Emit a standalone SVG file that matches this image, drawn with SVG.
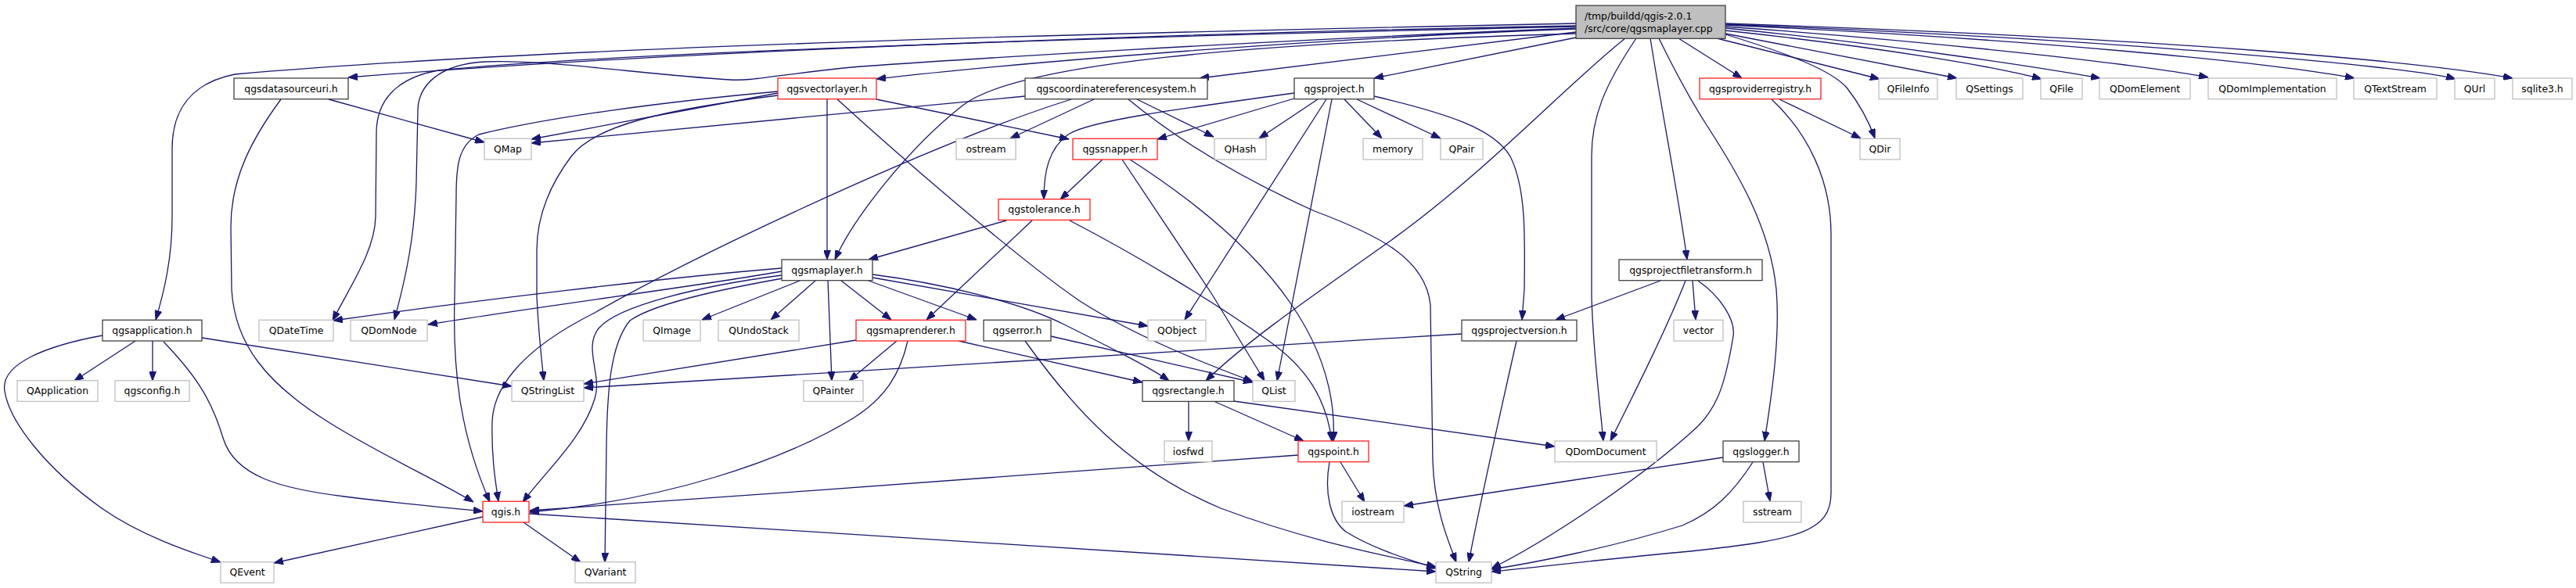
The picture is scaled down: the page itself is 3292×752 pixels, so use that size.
<svg xmlns="http://www.w3.org/2000/svg" width="3292" height="752" viewBox="0 0 3292 752">
<style>
rect{fill:#fff;stroke-width:1.3}
.b{stroke:#404040}
.r{stroke:#ff2020}
.g{stroke:#bfbfbf}
.root{fill:#bfbfbf;stroke:#404040}
text{font-family:"DejaVu Sans",sans-serif;font-size:12.4px;fill:#000;text-anchor:middle}
.lt{text-anchor:start}
#edges path{fill:none;stroke:#191970;stroke-width:1.3;marker-end:url(#ah)}
</style>
<defs>
<marker id="ah" markerWidth="12" markerHeight="9" refX="12" refY="4.5" orient="auto" markerUnits="userSpaceOnUse"><path d="M0,0 L12,4.5 L0,9 z" fill="#191970" stroke="#191970" stroke-width="1"/></marker>
</defs>
<rect x="0" y="0" width="3292" height="752" style="fill:#fff;stroke:none"/>
<g id="edges">
<path d="M2014,30 C1400,42 700,60 300,95 C245,106 220,140 220,190 L220,277 C220,330 210,372 199,409"/>
<path d="M2014,33 C1600,40 900,62 445,99"/>
<path d="M2014,37 C1700,48 1300,80 1120,101"/>
<path d="M2014,41 L1533,100"/>
<path d="M2014,48 L1756,100"/>
<path d="M2014,43 C1600,55 1300,80 1230,135 C1160,190 1090,280 1067,332"/>
<path d="M2014,34 C1500,45 800,66 560,90 C505,100 481,130 481,170 L480,277 C479,320 450,362 425,410"/>
<path d="M2014,36 C1600,52 1200,78 1100,85 C1000,94 965,104 933,102 C820,95 700,76 620,79 C560,82 535,110 534,140 L532,233 C530,300 520,350 504,409"/>
<path d="M2145,49 L2226,100"/>
<path d="M2120,49 C2140,90 2165,135 2181,160 C2220,220 2262,290 2270,370 C2275,430 2265,500 2255,564"/>
<path d="M2194,49 L2402,101"/>
<path d="M2205,43 L2501,100"/>
<path d="M2205,39 C2400,60 2550,85 2609,101"/>
<path d="M2205,36 C2400,55 2600,85 2684,100"/>
<path d="M2205,34 C2500,55 2750,85 2822,99"/>
<path d="M2205,32 C2600,50 2900,80 3009,100"/>
<path d="M2205,31 C2700,50 3080,85 3138,101"/>
<path d="M2205,30 C2800,50 3100,80 3211,100"/>
<path d="M2205,44 C2290,70 2340,90 2360,112 C2378,135 2390,160 2396,177"/>
<path d="M2077,49 C2000,110 1900,220 1774,310 C1690,370 1600,430 1541,487"/>
<path d="M2091,49 C2050,110 2034,150 2034,200 L2034,380 C2036,450 2044,510 2049,564"/>
<path d="M2109,49 C2125,150 2145,250 2156,332"/>
<path d="M420,127 L619,182"/>
<path d="M359,127 C320,180 295,230 295,290 L296,370 C300,440 340,490 420,540 C480,578 560,615 605,642"/>
<path d="M173,436 L95,487"/>
<path d="M195,436 L195,487"/>
<path d="M131,429 C60,442 0,465 6,500 C12,540 60,600 130,650 C180,685 240,705 282,719"/>
<path d="M209,437 C250,480 270,510 285,560 C300,610 360,625 440,635 C520,645 580,650 617,654"/>
<path d="M258,432 L654,494"/>
<path d="M994,119 L679,178"/>
<path d="M994,117 C850,130 700,150 612,172 C585,185 583,215 583,250 L581,380 C578,480 590,560 626,642"/>
<path d="M994,122 C850,140 760,160 730,200 C700,240 686,280 686,320 L686,380 C688,420 692,460 695,487"/>
<path d="M1057,127 L1057,332"/>
<path d="M1120,127 L1366,178"/>
<path d="M1070,127 C1150,200 1300,330 1380,385 C1450,430 1540,465 1601,488"/>
<path d="M1310,123 L679,183"/>
<path d="M1398,127 L1291,177"/>
<path d="M1453,127 L1551,175"/>
<path d="M1442,127 C1500,175 1580,225 1680,270 C1760,300 1822,330 1828,390 L1831,590 C1833,650 1850,690 1861,719"/>
<path d="M1369,127 C1200,180 900,320 760,400 C660,450 630,500 629,540 C628,580 632,610 637,641"/>
<path d="M1654,126 L1479,178"/>
<path d="M1684,127 L1609,177"/>
<path d="M1654,119 C1500,140 1390,155 1365,172 C1340,190 1334,220 1334,255"/>
<path d="M1718,127 L1766,177"/>
<path d="M1734,127 L1841,177"/>
<path d="M1756,123 C1850,145 1910,165 1930,200 C1950,240 1949,300 1948,370 L1945,409"/>
<path d="M1695,127 L1514,409"/>
<path d="M1702,127 L1632,487"/>
<path d="M2274,127 L2378,177"/>
<path d="M2264,127 C2310,170 2340,230 2340,300 L2340,630 C2340,680 2300,690 2160,705 C2050,715 1960,726 1906,731"/>
<path d="M1409,204 L1355,255"/>
<path d="M1434,204 L1548,375 C1575,420 1600,460 1616,487"/>
<path d="M1444,204 C1640,330 1710,450 1704,564"/>
<path d="M1286,282 L1110,332"/>
<path d="M1319,282 L1184,409"/>
<path d="M1367,282 C1450,325 1550,385 1620,435 C1670,470 1695,510 1702,564"/>
<path d="M999,343 C850,355 600,385 426,410"/>
<path d="M999,347 C900,365 700,390 547,415"/>
<path d="M999,352 C900,365 790,390 765,420 C745,445 770,480 760,510 C745,560 700,600 668,642"/>
<path d="M1000,356 C950,365 840,385 805,410 C780,440 776,500 775,570 L773,719"/>
<path d="M1022,359 L897,409"/>
<path d="M1042,359 L985,409"/>
<path d="M1058,359 L1063,487"/>
<path d="M1075,359 L1139,409"/>
<path d="M1110,359 L1248,409"/>
<path d="M1115,355 L1467,417"/>
<path d="M1115,351 C1200,362 1300,385 1360,415 C1420,445 1470,470 1494,487"/>
<path d="M1094,435 L746,491"/>
<path d="M1146,436 L1085,487"/>
<path d="M1160,436 C1150,480 1130,510 1090,535 C1000,590 850,640 677,655"/>
<path d="M1225,436 L1460,489"/>
<path d="M1343,430 L1601,489"/>
<path d="M1310,436 C1370,520 1440,600 1560,650 C1680,695 1780,712 1835,725"/>
<path d="M1519,513 L1519,564"/>
<path d="M1577,513 L1987,571"/>
<path d="M1551,513 L1666,564"/>
<path d="M1659,582 C1400,602 1000,630 677,653"/>
<path d="M1713,591 L1744,642"/>
<path d="M1699,591 C1692,630 1700,665 1720,680 C1760,705 1810,718 1835,727"/>
<path d="M2122,359 L1988,409"/>
<path d="M2163,359 L2167,409"/>
<path d="M2154,359 C2130,420 2090,500 2058,564"/>
<path d="M2170,359 C2200,380 2218,410 2215,430 C2205,490 2195,520 2170,545 C2100,610 1980,690 1906,727"/>
<path d="M2202,585 L1794,647"/>
<path d="M2253,591 L2262,641"/>
<path d="M2240,591 C2215,630 2190,655 2150,672 C2060,700 1960,720 1906,728"/>
<path d="M617,661 L350,720"/>
<path d="M669,668 L742,719"/>
<path d="M676,657 L1835,731"/>
<path d="M1868,427 L746,496"/>
<path d="M1938,436 C1910,560 1890,650 1877,719"/>
</g>
<g id="n_root"><rect class="root" x="2014" y="7" width="191" height="42.3"/><text class="lt" x="2025" y="25">/tmp/buildd/qgis-2.0.1</text><text class="lt" x="2025" y="40.5">/src/core/qgsmaplayer.cpp</text></g>
<g id="n_qgsdatasourceuri"><rect class="b" x="299" y="100" width="146" height="26.7"/><text x="372" y="117.7">qgsdatasourceuri.h</text></g>
<g id="n_qgsvectorlayer"><rect class="r" x="994" y="100" width="126" height="26.7"/><text x="1057" y="117.7">qgsvectorlayer.h</text></g>
<g id="n_qgscrs"><rect class="b" x="1310" y="100" width="233" height="26.7"/><text x="1426.5" y="117.7">qgscoordinatereferencesystem.h</text></g>
<g id="n_qgsproject"><rect class="b" x="1654" y="100" width="102" height="26.7"/><text x="1705" y="117.7">qgsproject.h</text></g>
<g id="n_qgsproviderregistry"><rect class="r" x="2172" y="100" width="155" height="26.7"/><text x="2249.5" y="117.7">qgsproviderregistry.h</text></g>
<g id="n_QFileInfo"><rect class="g" x="2401" y="100" width="75" height="26.7"/><text x="2438.5" y="117.7">QFileInfo</text></g>
<g id="n_QSettings"><rect class="g" x="2500" y="100" width="85" height="26.7"/><text x="2542.5" y="117.7">QSettings</text></g>
<g id="n_QFile"><rect class="g" x="2608" y="100" width="53" height="26.7"/><text x="2634.5" y="117.7">QFile</text></g>
<g id="n_QDomElement"><rect class="g" x="2683" y="100" width="116" height="26.7"/><text x="2741" y="117.7">QDomElement</text></g>
<g id="n_QDomImplementation"><rect class="g" x="2822" y="100" width="164" height="26.7"/><text x="2904" y="117.7">QDomImplementation</text></g>
<g id="n_QTextStream"><rect class="g" x="3008" y="100" width="106" height="26.7"/><text x="3061" y="117.7">QTextStream</text></g>
<g id="n_QUrl"><rect class="g" x="3137" y="100" width="51" height="26.7"/><text x="3162.5" y="117.7">QUrl</text></g>
<g id="n_sqlite3"><rect class="g" x="3211" y="100" width="76" height="26.7"/><text x="3249" y="117.7">sqlite3.h</text></g>
<g id="n_QMap"><rect class="g" x="619" y="177.3" width="60" height="26.7"/><text x="649" y="195">QMap</text></g>
<g id="n_ostream"><rect class="g" x="1222" y="177.3" width="76" height="26.7"/><text x="1260" y="195">ostream</text></g>
<g id="n_qgssnapper"><rect class="r" x="1371" y="177.3" width="108" height="26.7"/><text x="1425" y="195">qgssnapper.h</text></g>
<g id="n_QHash"><rect class="g" x="1552" y="177.3" width="66" height="26.7"/><text x="1585" y="195">QHash</text></g>
<g id="n_memory"><rect class="g" x="1742" y="177.3" width="76" height="26.7"/><text x="1780" y="195">memory</text></g>
<g id="n_QPair"><rect class="g" x="1841" y="177.3" width="54" height="26.7"/><text x="1868" y="195">QPair</text></g>
<g id="n_QDir"><rect class="g" x="2377" y="177.3" width="51" height="26.7"/><text x="2402.5" y="195">QDir</text></g>
<g id="n_qgstolerance"><rect class="r" x="1276" y="254.7" width="117" height="26.7"/><text x="1334.5" y="272.4">qgstolerance.h</text></g>
<g id="n_qgsmaplayer"><rect class="b" x="999" y="332" width="116" height="26.7"/><text x="1057" y="349.7">qgsmaplayer.h</text></g>
<g id="n_qgsprojectfiletransform"><rect class="b" x="2069" y="332" width="183" height="26.7"/><text x="2160.5" y="349.7">qgsprojectfiletransform.h</text></g>
<g id="n_qgsapplication"><rect class="b" x="131" y="409.3" width="127" height="26.7"/><text x="194.5" y="427">qgsapplication.h</text></g>
<g id="n_QDateTime"><rect class="g" x="331" y="409.3" width="95" height="26.7"/><text x="378.5" y="427">QDateTime</text></g>
<g id="n_QDomNode"><rect class="g" x="448" y="409.3" width="98" height="26.7"/><text x="497" y="427">QDomNode</text></g>
<g id="n_QImage"><rect class="g" x="822" y="409.3" width="73" height="26.7"/><text x="858.5" y="427">QImage</text></g>
<g id="n_QUndoStack"><rect class="g" x="918" y="409.3" width="103" height="26.7"/><text x="969.5" y="427">QUndoStack</text></g>
<g id="n_qgsmaprenderer"><rect class="r" x="1094" y="409.3" width="140" height="26.7"/><text x="1164" y="427">qgsmaprenderer.h</text></g>
<g id="n_qgserror"><rect class="b" x="1257" y="409.3" width="86" height="26.7"/><text x="1300" y="427">qgserror.h</text></g>
<g id="n_QObject"><rect class="g" x="1467" y="409.3" width="74" height="26.7"/><text x="1504" y="427">QObject</text></g>
<g id="n_qgsprojectversion"><rect class="b" x="1868" y="409.3" width="147" height="26.7"/><text x="1941.5" y="427">qgsprojectversion.h</text></g>
<g id="n_vector"><rect class="g" x="2139" y="409.3" width="63" height="26.7"/><text x="2170.5" y="427">vector</text></g>
<g id="n_QApplication"><rect class="g" x="22" y="486.7" width="103" height="26.7"/><text x="73.5" y="504.4">QApplication</text></g>
<g id="n_qgsconfig"><rect class="g" x="147" y="486.7" width="95" height="26.7"/><text x="194.5" y="504.4">qgsconfig.h</text></g>
<g id="n_QStringList"><rect class="g" x="654" y="486.7" width="92" height="26.7"/><text x="700" y="504.4">QStringList</text></g>
<g id="n_QPainter"><rect class="g" x="1027" y="486.7" width="76" height="26.7"/><text x="1065" y="504.4">QPainter</text></g>
<g id="n_qgsrectangle"><rect class="b" x="1460" y="486.7" width="117" height="26.7"/><text x="1518.5" y="504.4">qgsrectangle.h</text></g>
<g id="n_QList"><rect class="g" x="1601" y="486.7" width="54" height="26.7"/><text x="1628" y="504.4">QList</text></g>
<g id="n_iosfwd"><rect class="g" x="1488" y="564" width="61" height="26.7"/><text x="1518.5" y="581.7">iosfwd</text></g>
<g id="n_qgspoint"><rect class="r" x="1659" y="564" width="90" height="26.7"/><text x="1704" y="581.7">qgspoint.h</text></g>
<g id="n_QDomDocument"><rect class="g" x="1987" y="564" width="130" height="26.7"/><text x="2052" y="581.7">QDomDocument</text></g>
<g id="n_qgslogger"><rect class="b" x="2202" y="564" width="97" height="26.7"/><text x="2250.5" y="581.7">qgslogger.h</text></g>
<g id="n_qgis"><rect class="r" x="617" y="641.3" width="59" height="26.7"/><text x="646.5" y="659">qgis.h</text></g>
<g id="n_iostream"><rect class="g" x="1715" y="641.3" width="79" height="26.7"/><text x="1754.5" y="659">iostream</text></g>
<g id="n_sstream"><rect class="g" x="2228" y="641.3" width="74" height="26.7"/><text x="2265" y="659">sstream</text></g>
<g id="n_QEvent"><rect class="g" x="282" y="718.7" width="68" height="26.7"/><text x="316" y="736.4">QEvent</text></g>
<g id="n_QVariant"><rect class="g" x="735" y="718.7" width="77" height="26.7"/><text x="773.5" y="736.4">QVariant</text></g>
<g id="n_QString"><rect class="g" x="1835" y="718.7" width="71" height="26.7"/><text x="1870.5" y="736.4">QString</text></g>
</svg>
